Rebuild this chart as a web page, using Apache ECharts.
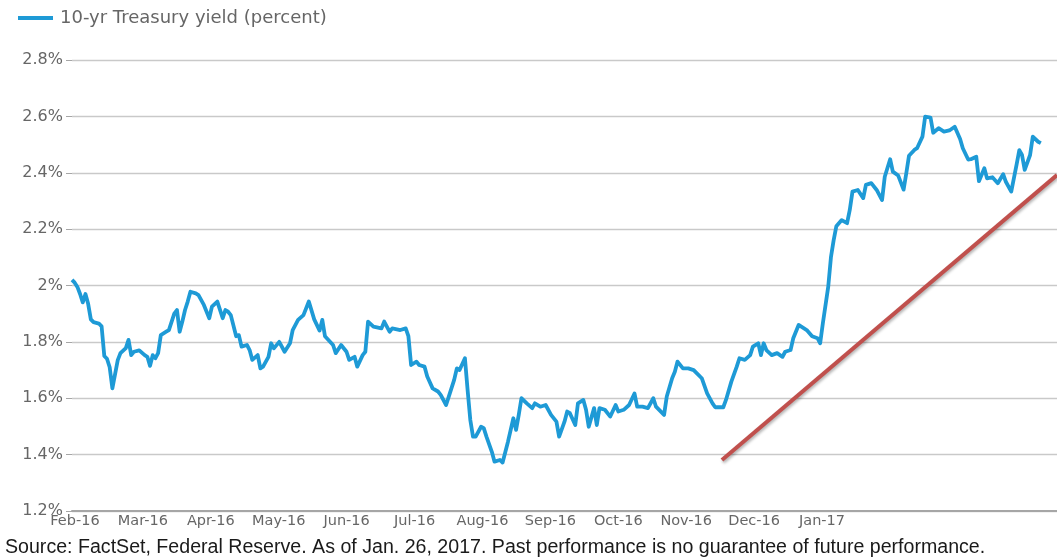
<!DOCTYPE html>
<html>
<head>
<meta charset="utf-8">
<script src="https://cdn.jsdelivr.net/npm/echarts@6/dist/echarts.min.js"></script>
<style>
  html, body { margin: 0; padding: 0; background: #fff; }
  #chart { width: 1057px; height: 558px; }
</style>
</head>
<body>
<div id="chart"></div>
<script>
const seriesName = '10-yr Treasury yield (percent)';
const sourceNote = 'Source: FactSet, Federal Reserve. As of Jan. 26, 2017. Past performance is no guarantee of future performance.';
const monthLabels = ['Feb-16','Mar-16','Apr-16','May-16','Jun-16','Jul-16','Aug-16','Sep-16','Oct-16','Nov-16','Dec-16','Jan-17'];
const yTicks = [1.2, 1.4, 1.6, 1.8, 2.0, 2.2, 2.4, 2.6, 2.8];

const dates = [
'2016-02-01','2016-02-02','2016-02-03','2016-02-04','2016-02-05','2016-02-06','2016-02-07','2016-02-08','2016-02-09','2016-02-11',
'2016-02-12','2016-02-13','2016-02-14','2016-02-15','2016-02-16','2016-02-18','2016-02-19','2016-02-21','2016-02-22','2016-02-23',
'2016-02-24','2016-02-26','2016-02-28','2016-02-29','2016-03-01','2016-03-02','2016-03-03','2016-03-04','2016-03-05','2016-03-07',
'2016-03-08','2016-03-10','2016-03-11','2016-03-12','2016-03-13','2016-03-14','2016-03-15','2016-03-16','2016-03-18','2016-03-19',
'2016-03-21','2016-03-23','2016-03-24','2016-03-26','2016-03-28','2016-03-29','2016-03-30','2016-03-31','2016-04-02','2016-04-03',
'2016-04-04','2016-04-06','2016-04-07','2016-04-08','2016-04-10','2016-04-11','2016-04-12','2016-04-14','2016-04-15','2016-04-16',
'2016-04-18','2016-04-20','2016-04-22','2016-04-23','2016-04-25','2016-04-27','2016-04-29','2016-05-01','2016-05-03','2016-05-04',
'2016-05-05','2016-05-08','2016-05-09','2016-05-11','2016-05-13','2016-05-14','2016-05-16','2016-05-17','2016-05-19','2016-05-20',
'2016-05-21','2016-05-23','2016-05-26','2016-05-27','2016-05-29','2016-05-30','2016-06-02','2016-06-04','2016-06-05','2016-06-06',
'2016-06-08','2016-06-09','2016-06-11','2016-06-12','2016-06-14','2016-06-16','2016-06-17','2016-06-19','2016-06-20','2016-06-22',
'2016-06-23','2016-06-24','2016-06-26','2016-06-27','2016-06-28','2016-06-29','2016-06-30','2016-07-02','2016-07-03','2016-07-04',
'2016-07-06','2016-07-07','2016-07-09','2016-07-10','2016-07-12','2016-07-14','2016-07-15','2016-07-16','2016-07-17','2016-07-19',
'2016-07-21','2016-07-22','2016-07-24','2016-07-26','2016-07-28','2016-07-30','2016-07-31','2016-08-02','2016-08-03','2016-08-04',
'2016-08-06','2016-08-07','2016-08-09','2016-08-10','2016-08-11','2016-08-13','2016-08-14','2016-08-15','2016-08-17','2016-08-19',
'2016-08-21','2016-08-22','2016-08-24','2016-08-26','2016-08-28','2016-08-29','2016-08-31','2016-09-02','2016-09-04','2016-09-05',
'2016-09-08','2016-09-09','2016-09-11','2016-09-12','2016-09-13','2016-09-15','2016-09-17','2016-09-19','2016-09-22','2016-09-24',
'2016-09-26','2016-09-27','2016-09-30','2016-10-01','2016-10-03','2016-10-05','2016-10-06','2016-10-08','2016-10-10','2016-10-11',
'2016-10-13','2016-10-14','2016-10-15','2016-10-16','2016-10-18','2016-10-20','2016-10-22','2016-10-23','2016-10-25','2016-10-26',
'2016-10-28','2016-10-31','2016-11-02','2016-11-04','2016-11-05','2016-11-06','2016-11-08','2016-11-09','2016-11-10','2016-11-11',
'2016-11-13','2016-11-15','2016-11-16','2016-11-17','2016-11-19','2016-11-21','2016-11-22','2016-11-24','2016-11-26','2016-11-28',
'2016-11-29','2016-12-01','2016-12-02','2016-12-04','2016-12-06','2016-12-07','2016-12-08','2016-12-10','2016-12-11','2016-12-13',
'2016-12-14','2016-12-16','2016-12-17','2016-12-19','2016-12-21','2016-12-23','2016-12-25','2016-12-27','2016-12-28','2016-12-30',
'2016-12-31','2017-01-02','2017-01-03','2017-01-05','2017-01-06','2017-01-08','2017-01-10','2017-01-12','2017-01-13','2017-01-15',
'2017-01-17','2017-01-18','2017-01-19','2017-01-20','2017-01-22','2017-01-23','2017-01-25','2017-01-26'
];

const yields = [
2.02,2.01,1.995,1.97,1.94,1.97,1.935,1.88,1.87,1.865,
1.855,1.75,1.74,1.71,1.635,1.735,1.76,1.778,1.807,1.753,
1.765,1.77,1.753,1.747,1.715,1.753,1.742,1.76,1.824,1.836,
1.842,1.90,1.913,1.836,1.872,1.913,1.943,1.978,1.972,1.966,
1.931,1.884,1.925,1.943,1.884,1.913,1.907,1.895,1.82,1.824,
1.783,1.789,1.771,1.736,1.753,1.706,1.712,1.747,1.795,1.777,
1.80,1.765,1.795,1.842,1.878,1.895,1.943,1.88,1.84,1.878,
1.82,1.789,1.76,1.789,1.765,1.736,1.747,1.712,1.753,1.765,
1.872,1.854,1.848,1.872,1.836,1.848,1.842,1.848,1.82,1.718,
1.73,1.718,1.712,1.677,1.635,1.624,1.612,1.576,1.606,1.665,
1.706,1.70,1.742,1.629,1.523,1.464,1.464,1.499,1.494,1.464,
1.41,1.375,1.381,1.372,1.446,1.529,1.488,1.541,1.60,1.582,
1.565,1.582,1.57,1.576,1.541,1.517,1.464,1.517,1.553,1.547,
1.505,1.582,1.594,1.559,1.499,1.565,1.505,1.565,1.559,1.535,
1.576,1.553,1.559,1.576,1.617,1.57,1.57,1.565,1.60,1.57,
1.541,1.606,1.671,1.694,1.73,1.706,1.706,1.70,1.671,1.617,
1.582,1.568,1.568,1.594,1.659,1.712,1.742,1.736,1.753,1.783,
1.795,1.753,1.795,1.771,1.753,1.76,1.747,1.765,1.771,1.813,
1.86,1.842,1.82,1.813,1.795,1.866,1.996,2.10,2.16,2.21,
2.232,2.221,2.268,2.333,2.339,2.31,2.357,2.363,2.339,2.303,
2.386,2.448,2.404,2.39,2.34,2.398,2.46,2.481,2.487,2.528,
2.599,2.596,2.542,2.558,2.546,2.55,2.563,2.52,2.487,2.447,
2.448,2.457,2.37,2.416,2.38,2.384,2.363,2.395,2.368,2.333,
2.43,2.48,2.463,2.41,2.463,2.528,2.51,2.505
];

// red annotation arrow (start / end, in data space)
const trendDates = ['2016-09-29 12:00', '2017-02-01'];
const trendValues = [1.381, 2.392];

const chart = echarts.init(document.getElementById('chart'), null, { renderer: 'canvas' });

const option = {
  animation: false,
  backgroundColor: '#ffffff',
  textStyle: { fontFamily: '"DejaVu Sans", Verdana, sans-serif' },
  legend: {
    data: [seriesName],
    left: 13, top: 4,
    icon: 'rect', itemWidth: 35, itemHeight: 4,
    textStyle: { color: '#666', fontSize: 18, padding: [0, 0, 0, 2], fontFamily: '"DejaVu Sans", sans-serif' }
  },
  grid: [
    { left: 72, right: 0, top: 60, bottom: 47 },
    { left: 75, right: 235, top: 60, bottom: 47 }
  ],
  xAxis: [
    {
      type: 'time', gridIndex: 0,
      min: '2016-02-01', max: '2017-02-01',
      axisLabel: { show: false }, axisTick: { show: false },
      axisLine: { show: true, lineStyle: { color: '#a6a6a6', width: 2 } },
      splitLine: { show: false }
    },
    {
      type: 'value', gridIndex: 1,
      min: 0, max: monthLabels.length - 1, interval: 1,
      axisLine: { show: false }, axisTick: { show: false }, splitLine: { show: false },
      axisLabel: {
        color: '#666', fontSize: 14.5, margin: 3, fontFamily: '"DejaVu Sans", sans-serif',
        formatter: v => monthLabels[v] || ''
      }
    }
  ],
  yAxis: [
    {
      type: 'value', gridIndex: 0,
      min: yTicks[0], max: yTicks[yTicks.length - 1], interval: 0.2,
      axisLine: { show: false },
      axisTick: { show: true, length: 6, lineStyle: { color: '#a6a6a6' } },
      axisLabel: {
        color: '#666', fontSize: 16, margin: 9, fontFamily: '"DejaVu Sans", sans-serif',
        formatter: v => (+v.toFixed(1)) + '%'
      },
      splitLine: { show: true, lineStyle: { color: '#c9c9c9', width: 1.3 } }
    },
    { type: 'value', gridIndex: 1, min: 0, max: 1, show: false }
  ],
  series: [
    {
      name: seriesName, type: 'line', xAxisIndex: 0, yAxisIndex: 0,
      data: dates.map((d, i) => [d, yields[i]]),
      showSymbol: false, symbol: 'none',
      lineStyle: { color: '#1e9ad6', width: 3.8, join: 'round' },
      itemStyle: { color: '#1e9ad6' },
      z: 3
    },
    {
      name: 'trend', type: 'line', xAxisIndex: 0, yAxisIndex: 0,
      data: trendDates.map((d, i) => [d, trendValues[i]]),
      showSymbol: false, symbol: 'none', silent: true,
      lineStyle: {
        color: '#c0504d', width: 4,
        shadowColor: 'rgba(0,0,0,0.3)', shadowBlur: 3, shadowOffsetX: 1, shadowOffsetY: 2
      },
      itemStyle: { color: '#c0504d' },
      z: 4
    }
  ],
  graphic: [
    {
      type: 'text', left: 5, top: 538,
      style: { text: sourceNote, fill: '#1a1a1a', font: '19.6px "Liberation Sans", Arial, sans-serif' }
    }
  ]
};

chart.setOption(option);
</script>
</body>
</html>
